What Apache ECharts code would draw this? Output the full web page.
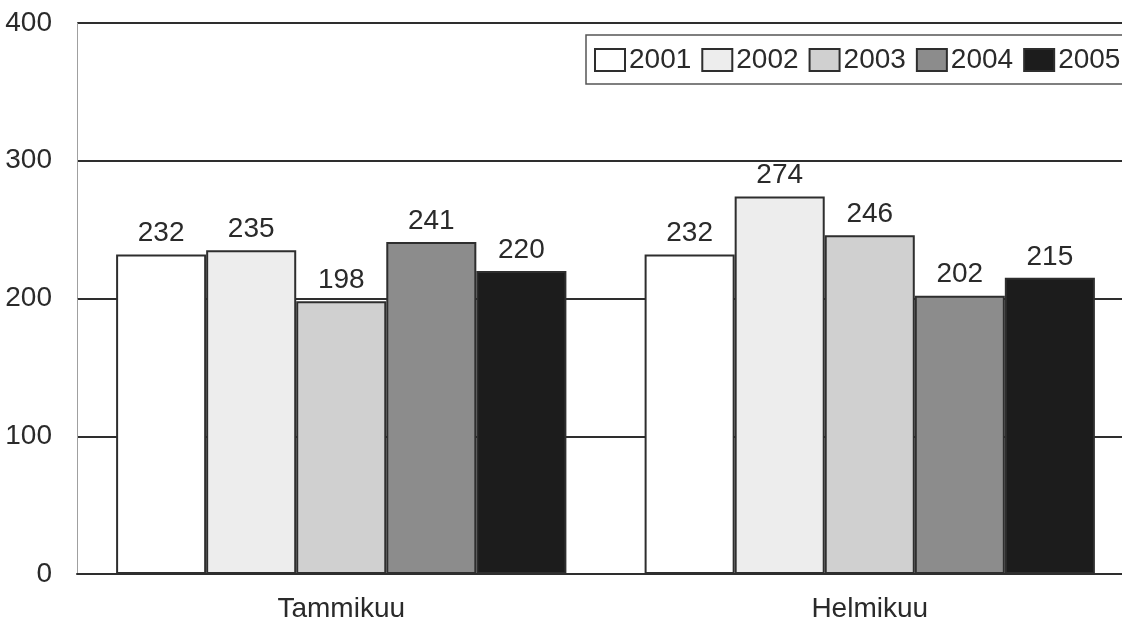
<!DOCTYPE html>
<html>
<head>
<meta charset="utf-8">
<script src="https://cdn.jsdelivr.net/npm/echarts@6/dist/echarts.min.js"></script>
<style>
html,body{margin:0;padding:0;background:#fff;}
#chart{width:1122px;height:622px;}
</style>
</head>
<body>
<div id="chart"></div>
<script>
const categories = ['Tammikuu', 'Helmikuu'];
const seriesNames = ['2001', '2002', '2003', '2004', '2005'];
const values2001 = [232, 232];
const values2002 = [235, 274];
const values2003 = [198, 246];
const values2004 = [241, 202];
const values2005 = [220, 215];
const yTicks = [0, 100, 200, 300, 400];

const allValues = [values2001, values2002, values2003, values2004, values2005];
const fills = ['#ffffff', '#ededed', '#d0d0d0', '#8c8c8c', '#1c1c1c'];
const FONT = "'Liberation Sans', Arial, sans-serif";
const textColor = '#2a2a2a';

const chart = echarts.init(document.getElementById('chart'), null, {renderer: 'canvas'});

const series = seriesNames.map((name, i) => ({
  name: name,
  type: 'bar',
  data: allValues[i],
  barGap: '0%',
  barCategoryGap: '14.8%',
  itemStyle: {color: fills[i], borderColor: '#2e2e2e', borderWidth: 2},
  label: {
    show: true,
    position: 'top',
    distance: 7,
    color: textColor,
    fontFamily: FONT,
    fontSize: 28
  },
  emphasis: {disabled: true},
  animation: false
}));

chart.setOption({
  backgroundColor: '#ffffff',
  animation: false,
  grid: {left: 77, top: 23, width: 1057, height: 551, containLabel: false, outerBoundsMode: 'none'},
  legend: {
    data: seriesNames,
    left: 586,
    top: 35,
    width: 560,
    itemWidth: 30,
    itemHeight: 22,
    itemGap: 10,
    padding: [11, 12, 10, 8],
    borderColor: '#555',
    borderWidth: 1.5,
    backgroundColor: '#fff',
    textStyle: {color: textColor, fontFamily: FONT, fontSize: 28, padding: [0, 0, 0, -1]},
    icon: 'rect'
  },
  xAxis: {
    type: 'category',
    data: categories,
    axisLine: {lineStyle: {color: '#2e2e2e', width: 2}},
    axisTick: {show: false},
    axisLabel: {color: textColor, fontFamily: FONT, fontSize: 28, margin: 21}
  },
  yAxis: {
    type: 'value',
    min: yTicks[0],
    max: yTicks[yTicks.length - 1],
    interval: 100,
    axisLine: {show: true, lineStyle: {color: '#a0a0a0', width: 1}},
    axisTick: {show: false},
    splitLine: {show: true, lineStyle: {color: '#2e2e2e', width: 2}},
    axisLabel: {color: textColor, fontFamily: FONT, fontSize: 28, margin: 25}
  },
  series: series
});
</script>
</body>
</html>
